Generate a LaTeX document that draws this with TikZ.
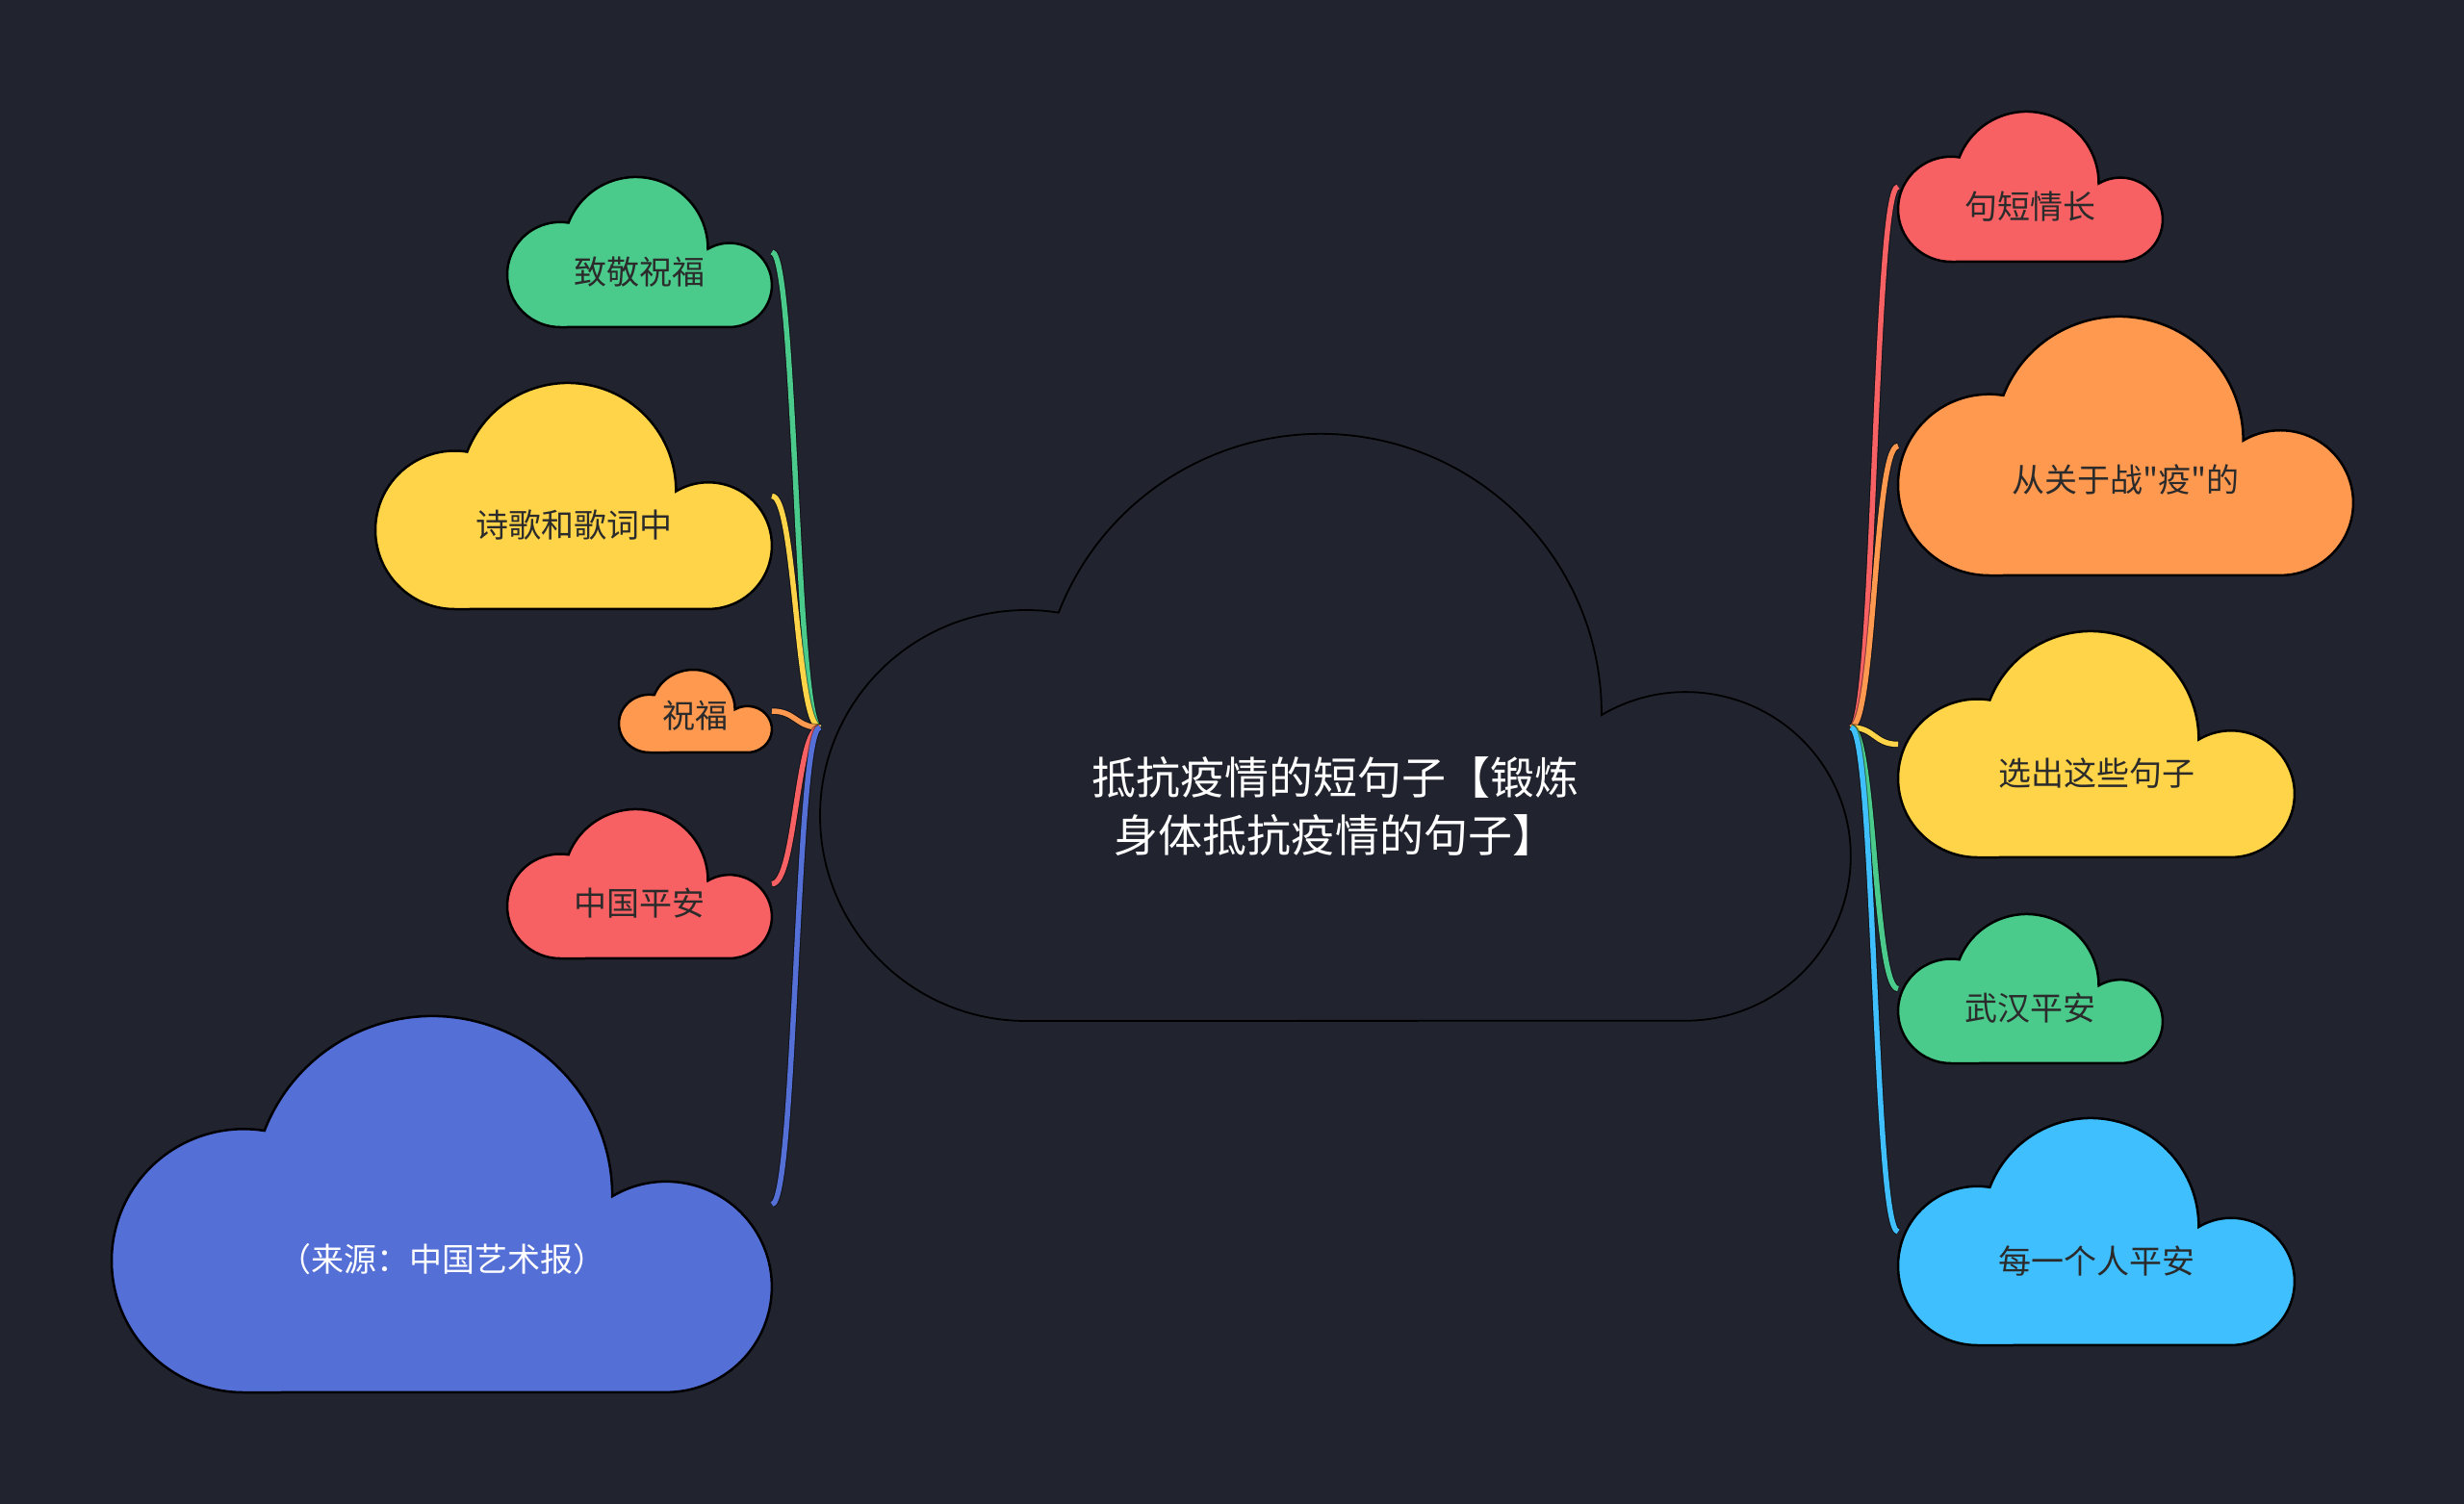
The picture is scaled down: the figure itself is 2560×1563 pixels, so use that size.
\documentclass[tikz,border=0pt]{standalone}
\usepackage{fontspec}
\newfontfamily\cjk{Noto Sans CJK SC}
\usetikzlibrary{calc}
\definecolor{bg}{HTML}{21242F}
\definecolor{cgreen}{HTML}{4BCB8B}
\definecolor{cyellow}{HTML}{FFD449}
\definecolor{corange}{HTML}{FF9950}
\definecolor{cred}{HTML}{F86163}
\definecolor{cblue}{HTML}{546FD6}
\definecolor{ccyan}{HTML}{40BFFF}
\definecolor{txtdark}{HTML}{2B2B2B}
% cloud outline in a w x h box: three elliptic bumps over a flat bottom
\newcommand\cloudoutline[3]{% #1 box node, #2 w, #3 h
  ($(#1.north west)+({0.2*#2},{-#3})$)
    arc[start angle=270, end angle=80.96, x radius={0.2*#2*1pt}, y radius={0.35*#3*1pt}]
    arc[start angle=158.8, end angle=-0.24, x radius={0.2726*#2*1pt}, y radius={0.477*#3*1pt}]
    arc[start angle=120.7, end angle=-90, x radius={0.16*#2*1pt}, y radius={0.28*#3*1pt}]
    -- cycle
}
% #1 name, #2 cx, #3 cy (px, downward), #4 w, #5 h, #6 cloud style, #7 text colour, #8 text, #9 relative text height
\newcommand\cloudat[9]{%
  \node[cloudbox, minimum width=#4pt, minimum height=#5pt] (#1) at (#2,-#3) {};
  \path[cloudline, #6] \cloudoutline{#1}{#4}{#5};
  \node[ctext, text=#7] (#1t) at (#2,{-(#3-0.5*#5+#9*#5)}) {#8};
}
\tikzset{
  cloudbox/.style={draw=none, inner sep=0pt, outer sep=0pt, rectangle},
  cloudline/.style={draw=black, line width=2.5pt, line join=miter},
  ctext/.style={inner sep=0pt, align=center, font=\cjk\fontsize{34}{40}\selectfont},
  rtext/.style={inner sep=0pt, align=center, font=\cjk\fontsize{46}{60}\selectfont},
  conn/.style={line width=5.5pt},
  connshadow/.style={line width=7.5pt, draw=black, opacity=0.45},
}
\newcommand\connect[3]{%
  \draw[connshadow] (#1) .. controls +(25,0) and +(-25,0) .. (#2);
  \draw[conn, draw=#3] (#1) .. controls +(25,0) and +(-25,0) .. (#2);
}
\begin{document}
\begin{tikzpicture}[x=1pt, y=1pt]
  \useasboundingbox (0,0) rectangle (2560,-1563);
  \fill[bg] (0,0) rectangle (2560,-1563);

  % root cloud
  \node[cloudbox, minimum width=1071pt, minimum height=610pt] (root) at (1387.5,-756) {};
  \path[cloudline, line width=1.8pt, fill=bg] \cloudoutline{root}{1071}{610};
  \node[rtext, text=white] (roott) at (1387.5,{-(451+0.635*610)}) {抵抗疫情的短句子【锻炼\\身体抵抗疫情的句子】};

  % left children
  \cloudat{g1}{664.5}{262}{275}{156}{fill=cgreen}{txtdark}{致敬祝福}{0.63}
  \cloudat{y1}{596}{515.5}{412}{235}{fill=cyellow}{txtdark}{诗歌和歌词中}{0.63}
  \cloudat{o1}{722.5}{739}{159}{86}{fill=corange}{txtdark}{祝福}{0.55}
  \cloudat{r1}{664.5}{918.5}{275}{155}{fill=cred}{txtdark}{中国平安}{0.63}
  \cloudat{b1}{459}{1251.5}{686}{391}{fill=cblue}{white}{（来源：中国艺术报）}{0.645}

  % right children
  \cloudat{r2}{2109.5}{194}{275}{156}{fill=cred}{txtdark}{句短情长}{0.63}
  \cloudat{o2}{2208.5}{463.5}{473}{269}{fill=corange}{txtdark}{从关于战"疫"的}{0.63}
  \cloudat{y2}{2178}{773.5}{412}{235}{fill=cyellow}{txtdark}{选出这些句子}{0.63}
  \cloudat{g2}{2109.5}{1027.5}{275}{155}{fill=cgreen}{txtdark}{武汉平安}{0.63}
  \cloudat{c2}{2178}{1280}{412}{236}{fill=ccyan}{txtdark}{每一个人平安}{0.63}

  % connectors left
  \connect{g1.east}{root.west}{cgreen}
  \connect{y1.east}{root.west}{cyellow}
  \connect{o1.east}{root.west}{corange}
  \connect{r1.east}{root.west}{cred}
  \connect{b1.east}{root.west}{cblue}
  % connectors right
  \connect{root.east}{r2.west}{cred}
  \connect{root.east}{o2.west}{corange}
  \connect{root.east}{y2.west}{cyellow}
  \connect{root.east}{g2.west}{cgreen}
  \connect{root.east}{c2.west}{ccyan}
\end{tikzpicture}
\end{document}
